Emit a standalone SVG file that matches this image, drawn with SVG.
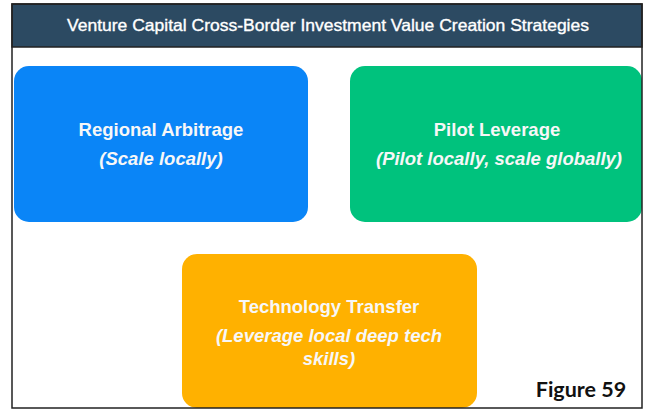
<svg xmlns="http://www.w3.org/2000/svg" width="646" height="410" viewBox="0 0 646 410">
<style>
.t{font-family:"Liberation Sans",Arial,sans-serif;font-weight:bold;fill:#F7F7F7;text-anchor:middle}
.h{font-size:18.5px}
.s{font-size:18.5px;font-style:italic}
</style>
<rect x="0" y="0" width="646" height="410" fill="#FFFFFF"/>
<g id="header">
<rect x="12" y="4" width="630" height="43" fill="#2C4A62" stroke="#222" stroke-width="1.5"/>
<text x="328" y="30.5" font-family="'Liberation Sans',Arial,sans-serif" font-size="16.5" fill="#FFFFFF" stroke="#FFFFFF" stroke-width="0.35" text-anchor="middle" textLength="522" lengthAdjust="spacingAndGlyphs">Venture Capital Cross-Border Investment Value Creation Strategies</text>
</g>
<g id="regional-arbitrage">
<rect x="14" y="66" width="294" height="156" rx="15" fill="#0A85F7"/>
<text class="t h" x="161" y="136">Regional Arbitrage</text>
<text class="t s" x="161" y="165">(Scale locally)</text>
</g>
<g id="pilot-leverage">
<rect x="350" y="66" width="292" height="156" rx="15" fill="#00C27D"/>
<text class="t h" x="497" y="136">Pilot Leverage</text>
<text class="t s" x="499" y="165">(Pilot locally, scale globally)</text>
</g>
<g id="technology-transfer">
<rect x="182" y="254" width="295" height="154" rx="15" fill="#FFB100"/>
<text class="t h" x="329" y="313">Technology Transfer</text>
<text class="t s" x="329" y="342">(Leverage local deep tech</text>
<text class="t s" x="329" y="365">skills)</text>
</g>
<g id="connectors"></g>
<rect x="12" y="4" width="630" height="404" fill="none" stroke="#222" stroke-width="1.5"/>
<text x="581" y="397" font-family="Lato,'Open Sans',sans-serif" font-weight="bold" font-size="21.5" fill="#111" text-anchor="middle">Figure 59</text>
</svg>
